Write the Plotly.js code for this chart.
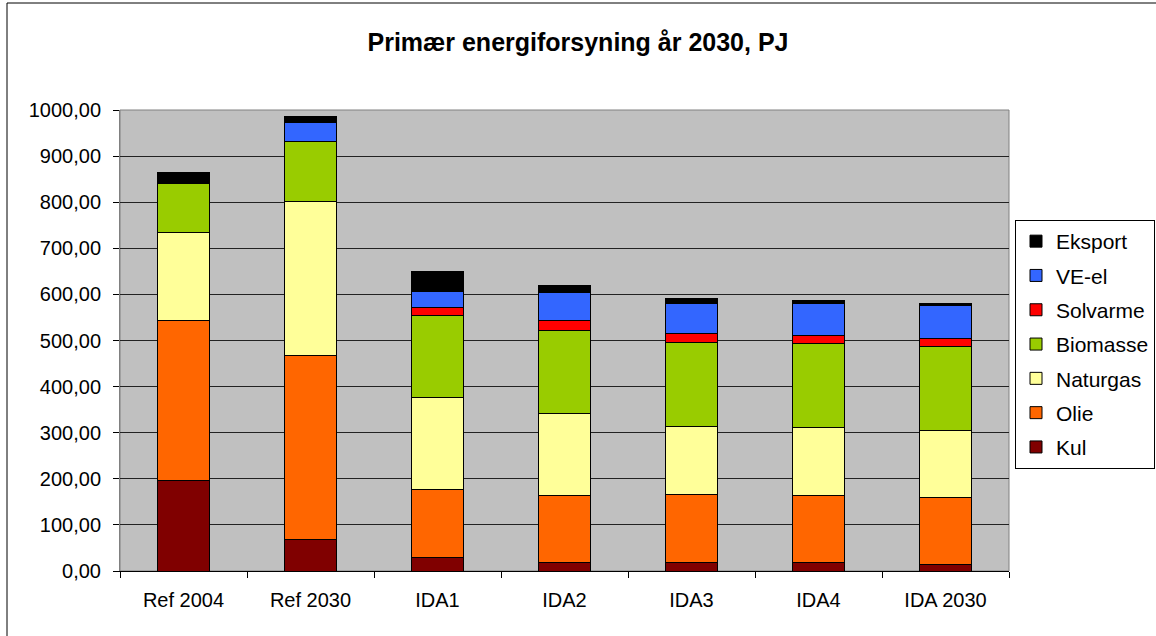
<!DOCTYPE html>
<html>
<head>
<meta charset="utf-8">
<script src="https://cdn.plot.ly/plotly-3.0.1.min.js"></script>
<style>
html,body{margin:0;padding:0;background:#fff;}
#chart{width:1156px;height:636px;}
</style>
</head>
<body>
<div id="chart"></div>
<script>
const categories = ["Ref 2004", "Ref 2030", "IDA1", "IDA2", "IDA3", "IDA4", "IDA 2030"];
const kul      = [197, 68, 29, 18, 18, 18, 14.5];
const olie     = [347, 400, 147, 146, 149, 146, 146];
const naturgas = [190, 334, 201, 178.5, 147.5, 147, 144];
const biomasse = [106, 129, 177, 179.5, 182, 182, 182];
const solvarme = [0, 0, 18, 22, 19, 18, 17.5];
const veel     = [0, 42.5, 35, 61, 64, 69, 73];
const eksport  = [24, 12.5, 42, 15, 11, 7, 4];

const seriesNames  = ["Kul", "Olie", "Naturgas", "Biomasse", "Solvarme", "VE-el", "Eksport"];
const seriesValues = [kul, olie, naturgas, biomasse, solvarme, veel, eksport];
const seriesColors = ["#800000", "#FF6600", "#FFFF99", "#99CC00", "#FF0000", "#3366FF", "#000000"];

const traces = seriesNames.map((name, i) => ({
  type: "bar",
  name: name,
  x: categories,
  y: seriesValues[i],
  legendgroup: "g" + i,
  legendrank: seriesNames.length - i,
  marker: {color: seriesColors[i], line: {color: "#000000", width: 1}},
  hoverinfo: "x+y+name"
}));

const font = "'Liberation Sans', Arial, sans-serif";

const layout = {
  width: 1156,
  height: 636,
  margin: {l: 120, r: 147, t: 110, b: 65, autoexpand: false},
  paper_bgcolor: "#ffffff",
  plot_bgcolor: "#C0C0C0",
  barmode: "stack",
  bargap: 0.593,
  separators: ",.",
  font: {family: font, size: 20, color: "#000000"},
  title: {
    text: "<b>Primær energiforsyning år 2030, PJ</b>",
    font: {family: font, size: 25, color: "#000000"},
    x: 0.5, xref: "container", xanchor: "center",
    y: 1 - 42 / 636, yref: "container", yanchor: "middle"
  },
  xaxis: {
    type: "category",
    tickson: "boundaries",
    ticks: "outside",
    ticklen: 6,
    tickcolor: "#000000",
    ticklabelstandoff: 11,
    showline: true,
    linecolor: "#000000",
    linewidth: 1,
    showgrid: false,
    tickfont: {family: font, size: 20, color: "#000000"},
    automargin: false,
    fixedrange: true
  },
  yaxis: {
    range: [0, 1000],
    tickvals: [0, 100, 200, 300, 400, 500, 600, 700, 800, 900, 1000],
    tickformat: ".2f",
    ticks: "outside",
    ticklen: 6,
    tickcolor: "#000000",
    ticklabelstandoff: 8,
    showline: true,
    linecolor: "#808080",
    linewidth: 1,
    showgrid: true,
    gridcolor: "#222222",
    gridwidth: 1,
    zeroline: false,
    tickfont: {family: font, size: 20, color: "#000000"},
    automargin: false,
    fixedrange: true
  },
  legend: {
    x: (1015 - 120) / 889,
    xanchor: "left",
    y: (571 - 220) / 461,
    yanchor: "top",
    traceorder: "grouped",
    tracegroupgap: 4,
    bgcolor: "#ffffff",
    bordercolor: "#000000",
    borderwidth: 1,
    font: {family: font, size: 21, color: "#000000"},
    itemwidth: 30
  },
  shapes: [
    {type: "rect", xref: "paper", yref: "paper", x0: 0, x1: 1, y0: 0, y1: 1,
     line: {color: "#808080", width: 1}, layer: "below"},
    {type: "rect", xref: "paper", yref: "paper",
     x0: (7 - 120) / 889, x1: (1170 - 120) / 889,
     y0: (571 - 650) / 461, y1: (571 - 3) / 461,
     line: {color: "#000000", width: 1}, fillcolor: "rgba(0,0,0,0)"}
  ],
  showlegend: true
};

Plotly.newPlot("chart", traces, layout, {displayModeBar: false, staticPlot: true});
</script>
</body>
</html>
